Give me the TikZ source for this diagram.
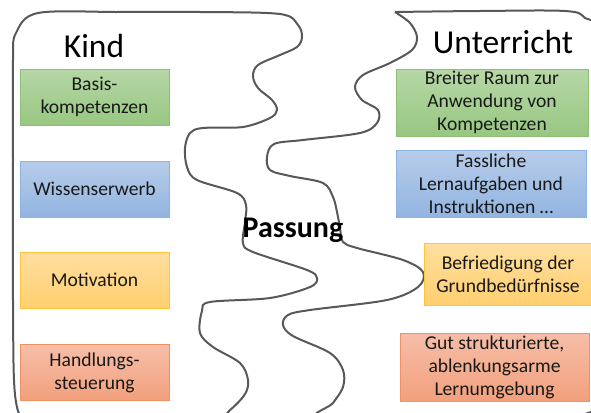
\documentclass[tikz,border=0pt]{standalone}
\usepackage{fontspec}
\setmainfont{Carlito}

\definecolor{gruenA}{RGB}{182,215,166}
\definecolor{gruenB}{RGB}{152,199,130}
\definecolor{gruenR}{RGB}{140,192,115}
\definecolor{blauA}{RGB}{183,204,234}
\definecolor{blauB}{RGB}{146,181,225}
\definecolor{blauR}{RGB}{140,180,226}
\definecolor{gelbA}{RGB}{255,222,160}
\definecolor{gelbB}{RGB}{255,208,112}
\definecolor{gelbR}{RGB}{255,196,60}
\definecolor{rotA}{RGB}{246,190,168}
\definecolor{rotB}{RGB}{242,160,125}
\definecolor{rotR}{RGB}{240,145,100}
\definecolor{linie}{RGB}{88,88,88}

\tikzset{
  umriss/.style={linie, line width=2pt},
  feld/.style={inner sep=0pt, align=center, text=black!90,
    font=\fontsize{19.6}{23}\selectfont, line width=0.8pt},
  gruen/.style={feld, draw=gruenR, top color=gruenA, bottom color=gruenB},
  blau/.style={feld, draw=blauR, top color=blauA, bottom color=blauB},
  gelb/.style={feld, draw=gelbR, top color=gelbA, bottom color=gelbB},
  rot/.style={feld, draw=rotR, top color=rotA, bottom color=rotB},
  titel/.style={anchor=base, text=black, font=\fontsize{33.5}{36}\selectfont}
}

\begin{document}
\begin{tikzpicture}[x=1pt, y=-1pt]
  \useasboundingbox (0,0) rectangle (591,412);
  \clip (0,0) rectangle (591,412);

  % Kind
  \begin{scope}
    \draw[umriss] plot[smooth cycle, tension=0.55] coordinates {
      (13,60) (16,33) (38,13) (120,12) (200,12) (280,14) (298,25) (302,37)
      (297,47) (280,55) (258,65) (253,76) (258,88) (272,100) (277,110)
      (270,118) (243,127) (203,128) (190,133) (185,148) (187,167) (197,180)
      (237,193) (246,205) (245,222) (243,243) (253,252) (307,270) (317,278)
      (310,287) (270,298) (210,302) (202,311) (200,333) (213,347) (240,363)
      (248,380) (245,394) (230,410) (210,422) (120,424) (35,418) (16,402)
      (13,300) (13,160)};
  \end{scope}

  % Unterricht
  \begin{scope}
    \draw[umriss] plot[smooth, tension=0.55] coordinates {
      (395,12) (410,23) (417,37) (412,50) (390,63) (363,75) (355,87)
      (362,100) (378,110) (377,123) (360,133) (303,140) (274,144) (267,157)
      (270,170) (290,176) (323,183) (333,197) (337,212) (340,228) (343,242)
      (357,248) (403,260) (423,272) (418,287) (387,300) (310,310) (288,315)
      (283,325) (293,336) (330,353) (343,370) (343,387) (333,403) (320,420)
      (450,430) (585,414) (600,380) (602,200) (598,40) (585,18) (565,11)
      (480,11) (395,12)};
  \end{scope}

  \node[titel] (kind) at (94,57) {Kind};
  \node[titel] (unterricht) at (503,53) {Unterricht};
  \node[anchor=base, font=\fontsize{30}{32}\selectfont\bfseries] (passung) at (293,237) {Passung};

  \node[gruen, minimum width=149pt, minimum height=56pt] (basis) at (94.5,97) {Basis-\\kompetenzen};
  \node[blau, minimum width=149pt, minimum height=56pt] (wissen) at (94.5,189) {Wissenserwerb};
  \node[gelb, minimum width=149pt, minimum height=56pt] (motivation) at (94.5,280) {Motivation};
  \node[rot, minimum width=149pt, minimum height=56pt] (handlung) at (94.5,372.5) {Handlungs-\\steuerung};

  \node[gruen, minimum width=192pt, minimum height=67pt] (raum) at (492,102.5) {Breiter Raum zur\\Anwendung von\\Kompetenzen};
  \node[blau, minimum width=190pt, minimum height=67pt] (aufgaben) at (491,183.5) {Fassliche\\Lernaufgaben und\\Instruktionen \dots};
  \node[gelb, minimum width=168pt, minimum height=62pt] (beduerfnis) at (508,274) {Befriedigung der\\Grundbedürfnisse};
  \node[rot, minimum width=189pt, minimum height=68pt] (umgebung) at (494.5,367) {Gut strukturierte,\\ablenkungsarme\\Lernumgebung};
\end{tikzpicture}
\end{document}
